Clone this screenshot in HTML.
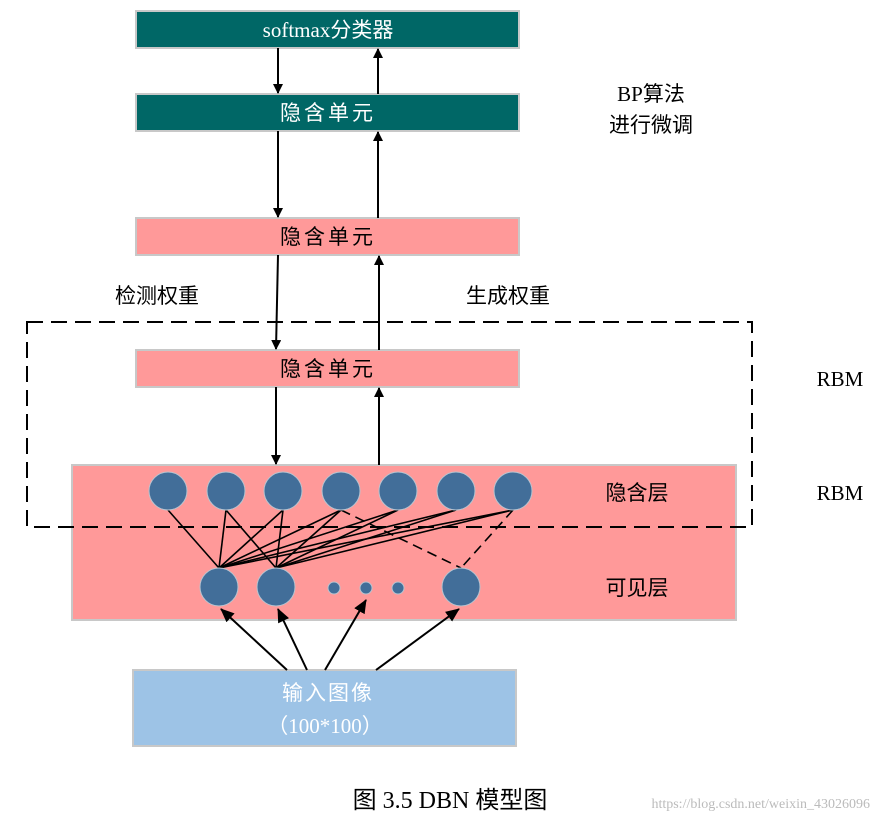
<!DOCTYPE html>
<html><head><meta charset="utf-8"><style>
html,body{margin:0;padding:0;background:#fff;width:880px;height:820px;overflow:hidden}
text{font-family:"Liberation Serif","Noto Sans CJK SC",serif}
</style></head><body>
<svg width="880" height="820" viewBox="0 0 880 820" xmlns="http://www.w3.org/2000/svg">
<defs>
<marker id="a" markerWidth="10" markerHeight="10" refX="9" refY="5" orient="auto" markerUnits="userSpaceOnUse" viewBox="0 0 10 10">
<path d="M0,0 L10,5 L0,10 z" fill="#000"/></marker>
<marker id="b" markerWidth="14" markerHeight="12" refX="13" refY="6" orient="auto" markerUnits="userSpaceOnUse" viewBox="0 0 14 12">
<path d="M0,0 L14,6 L0,12 z" fill="#000"/></marker>
</defs>
<g stroke="#c8c8c8" stroke-width="2">
<rect x="136" y="11" width="383" height="37" fill="#006766"/>
<rect x="136" y="94" width="383" height="37" fill="#006766"/>
<rect x="136" y="218" width="383" height="37" fill="#ff9999"/>
<rect x="136" y="350" width="383" height="37" fill="#ff9999"/>
<rect x="72" y="465" width="664" height="155" fill="#ff9999"/>
<rect x="133" y="670" width="383" height="76" fill="#9dc3e6"/>
</g>
<g fill="#fff" font-size="21" text-anchor="middle">
<text x="328" y="37">softmax分类器</text>
<text x="328" y="120" font-family="Noto Sans CJK SC,sans-serif" fill="#fff" letter-spacing="3">隐含单元</text>
<text x="328" y="700" letter-spacing="2">输入图像</text>
<text x="325" y="733">（100*100）</text>
</g>
<g fill="#000" font-size="21" text-anchor="middle">
<text x="328" y="244" letter-spacing="3">隐含单元</text>
<text x="328" y="376" letter-spacing="3">隐含单元</text>
<text x="651" y="101">BP算法</text>
<text x="651" y="132">进行微调</text>
<text x="157" y="303">检测权重</text>
<text x="508" y="303">生成权重</text>
<text x="840" y="386">RBM</text>
<text x="840" y="500">RBM</text>
<text x="637" y="500">隐含层</text>
<text x="637" y="595">可见层</text>
<text x="450" y="808" font-size="24">图 3.5 DBN 模型图</text>
</g>
<text x="870" y="808" font-size="14" fill="#bbb" text-anchor="end" font-family="Liberation Sans,sans-serif">https://blog.csdn.net/weixin_43026096</text>
<g stroke="#000" stroke-width="2" fill="none">
<line x1="278" y1="48" x2="278" y2="93" marker-end="url(#a)"/>
<line x1="378" y1="94" x2="378" y2="49" marker-end="url(#a)"/>
<line x1="278" y1="131" x2="278" y2="217" marker-end="url(#a)"/>
<line x1="378" y1="218" x2="378" y2="132" marker-end="url(#a)"/>
<line x1="278" y1="255" x2="276" y2="349" marker-end="url(#a)"/>
<line x1="379" y1="350" x2="379" y2="256" marker-end="url(#a)"/>
<line x1="276" y1="387" x2="276" y2="464" marker-end="url(#a)"/>
<line x1="379" y1="465" x2="379" y2="388" marker-end="url(#a)"/>
<line x1="287" y1="670" x2="221" y2="609" marker-end="url(#b)"/>
<line x1="307" y1="670" x2="278" y2="609" marker-end="url(#b)"/>
<line x1="325" y1="670" x2="366" y2="600" marker-end="url(#b)"/>
<line x1="376" y1="670" x2="459" y2="609" marker-end="url(#b)"/>
</g>
<rect x="27" y="322" width="725" height="205" fill="none" stroke="#000" stroke-width="2" stroke-dasharray="16,8"/>
<g stroke="#000" stroke-width="1.6">
<line x1="168" y1="510" x2="219" y2="568"/>
<line x1="226" y1="510" x2="219" y2="568"/>
<line x1="283" y1="510" x2="219" y2="568"/>
<line x1="341" y1="510" x2="219" y2="568"/>
<line x1="398" y1="510" x2="219" y2="568"/>
<line x1="456" y1="510" x2="219" y2="568"/>
<line x1="513" y1="510" x2="219" y2="568"/>
<line x1="226" y1="510" x2="276" y2="568"/>
<line x1="283" y1="510" x2="276" y2="568"/>
<line x1="341" y1="510" x2="276" y2="568"/>
<line x1="398" y1="510" x2="276" y2="568"/>
<line x1="456" y1="510" x2="276" y2="568"/>
<line x1="513" y1="510" x2="276" y2="568"/>
<line x1="341" y1="510" x2="461" y2="568" stroke-dasharray="10,6"/>
<line x1="513" y1="510" x2="461" y2="568" stroke-dasharray="10,6"/>
</g>
<g fill="#426e99" stroke="#b8c4d0" stroke-width="1">
<circle cx="168" cy="491" r="19"/><circle cx="226" cy="491" r="19"/><circle cx="283" cy="491" r="19"/>
<circle cx="341" cy="491" r="19"/><circle cx="398" cy="491" r="19"/><circle cx="456" cy="491" r="19"/><circle cx="513" cy="491" r="19"/>
<circle cx="219" cy="587" r="19"/><circle cx="276" cy="587" r="19"/><circle cx="461" cy="587" r="19"/>
<circle cx="334" cy="588" r="6"/><circle cx="366" cy="588" r="6"/><circle cx="398" cy="588" r="6"/>
</g>
</svg>
</body></html>
